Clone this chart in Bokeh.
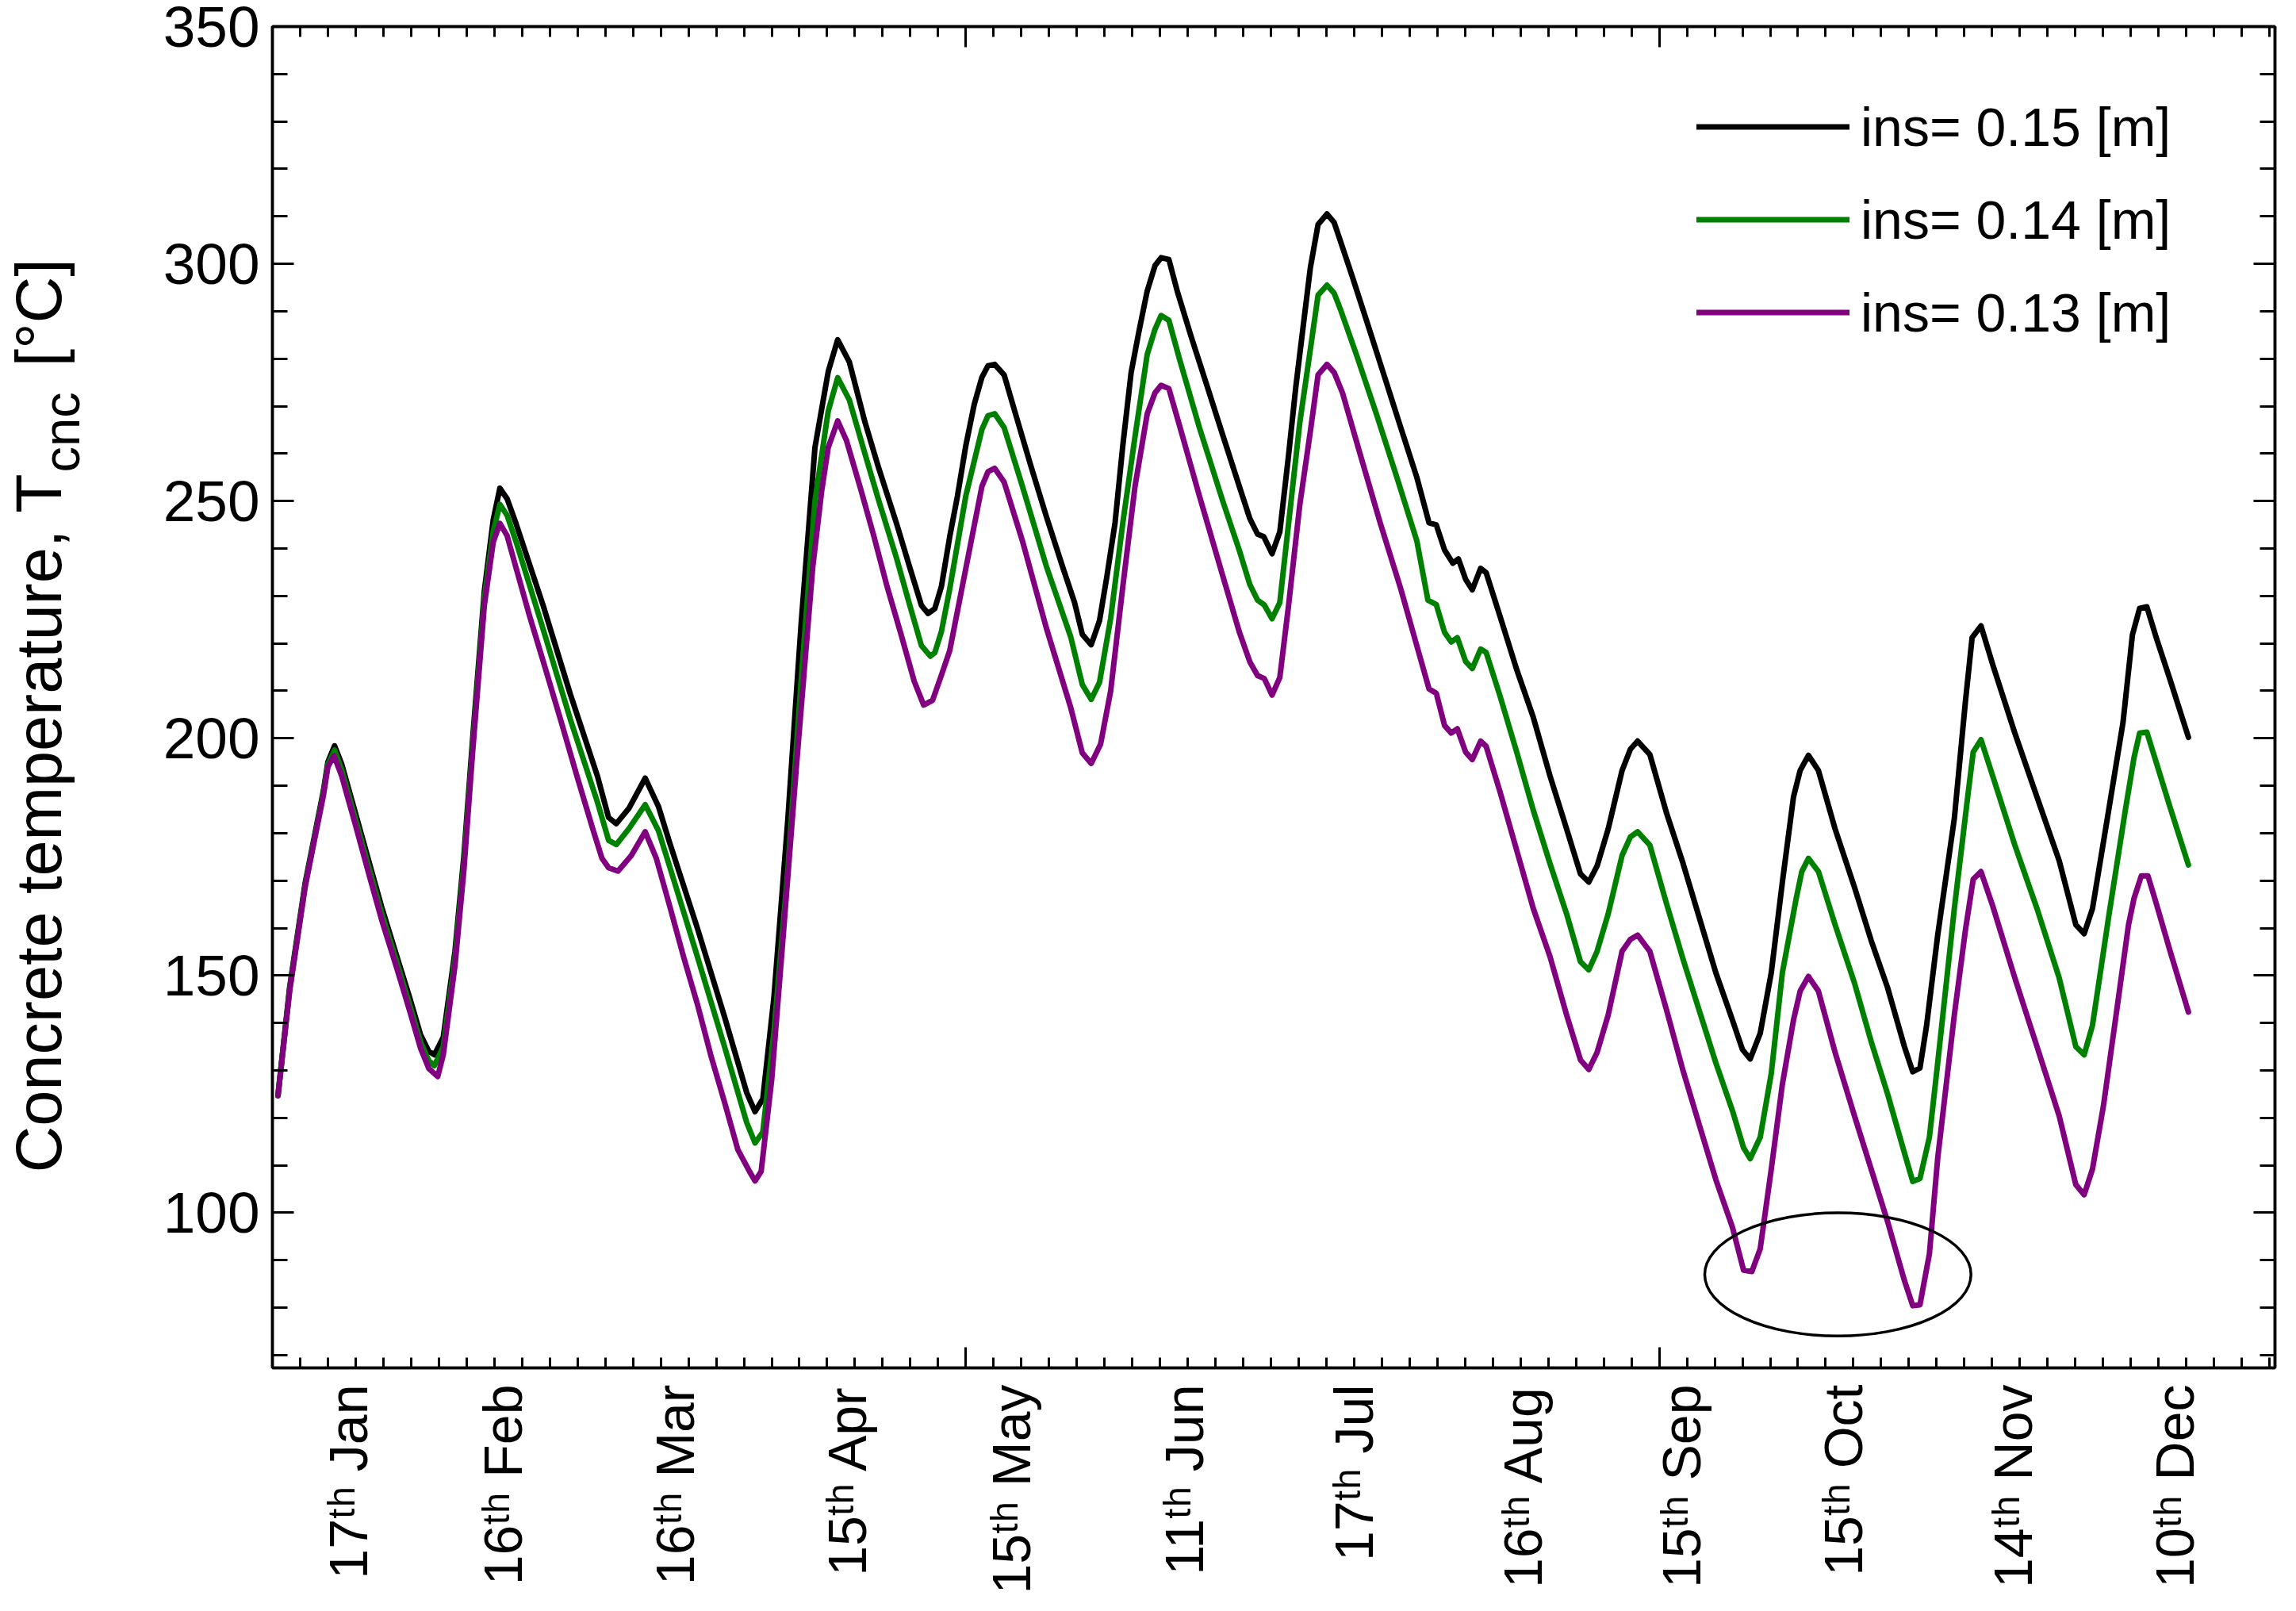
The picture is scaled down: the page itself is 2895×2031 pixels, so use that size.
import math
from bokeh.plotting import figure
from bokeh.models import Range1d, LinearAxis, FixedTicker, Legend, LegendItem
from bokeh.embed import file_html
from bokeh.resources import INLINE

# ---------------- data (day of year, concrete temperature in degC) ----------------
ins_015 = [(1.0,124.7),(3.1,147.5),(5.9,169.5),(7.6,179.5),(9.2,189.0),(10.0,195.0),(11.2,198.4),(12.5,194.5),
 (14.9,184.5),(17.4,174.0),(19.8,164.0),(22.3,154.5),(24.7,145.5),(26.7,137.5),(28.2,134.0),(29.2,133.3),
 (30.8,137.0),(32.9,155.0),(34.5,175.0),(36.1,200.0),(38.2,231.0),(39.8,246.0),(41.0,252.7),(42.3,250.5),
 (43.9,245.3),(48.8,228.0),(53.7,209.3),(58.6,192.0),(60.6,183.3),(62.0,182.0),(64.3,185.3),(67.2,191.6),
 (69.6,185.6),(71.6,178.0),(76.6,160.0),(81.5,141.3),(85.5,125.3),(87.0,121.3),(88.4,124.0),(90.4,145.3),
 (92.9,182.7),(95.3,224.0),(97.8,261.3),(100.2,277.3),(101.9,284.0),(104.0,279.3),(106.8,266.7),(109.2,257.3),
 (112.5,245.3),(114.9,236.0),(117.0,228.0),(118.2,226.3),(119.4,227.3),(120.6,232.0),(122.1,242.5),(123.5,251.1),
 (125.0,261.7),(126.5,270.3),(127.9,276.1),(129.0,278.5),(130.2,278.8),(131.9,276.6),(133.7,269.4),(136.6,257.9),
 (139.5,246.8),(142.4,236.3),(144.6,228.6),(146.0,221.9),(147.6,219.7),(149.1,224.8),(150.4,233.9),(151.9,245.4),
 (153.3,261.7),(154.8,277.1),(156.2,285.7),(157.7,294.3),(159.1,299.6),(160.2,301.3),(161.6,300.9),(163.1,294.3),
 (165.6,284.7),(168.5,274.2),(171.4,263.6),(174.3,253.1),(176.2,246.3),(177.6,243.0),(178.7,242.5),(180.2,238.9),
 (181.6,243.5),(183.1,258.8),(184.5,274.2),(186.0,288.6),(187.1,299.1),(188.5,308.3),(190.1,310.5),(191.4,308.7),
 (192.5,304.9),(194.7,297.2),(197.6,286.7),(200.5,276.1),(203.4,265.5),(206.3,255.0),(208.5,245.4),(209.8,245.0),
 (211.3,239.7),(212.8,236.9),(213.8,237.8),(215.1,233.5),(216.3,231.3),(217.8,235.8),(218.8,234.9),(221.3,225.7),
 (224.3,214.5),(227.3,204.4),(230.3,192.1),(233.3,180.9),(235.8,171.4),(237.3,169.7),(238.8,173.1),(240.8,180.9),
 (243.3,193.2),(244.8,197.7),(246.1,199.4),(248.3,196.6),(251.3,184.3),(254.3,173.6),(257.3,161.9),(260.2,150.6),
 (263.2,140.6),(265.0,134.4),(266.4,132.4),(268.2,137.8),(270.2,150.6),(272.2,169.7),(274.2,187.6),(275.4,193.2),
 (276.9,196.4),(278.7,193.2),(281.7,180.9),(285.2,168.6),(288.2,157.4),(291.2,147.3),(294.2,135.0),(295.7,129.7),
 (297.0,130.5),(298.2,139.5),(300.2,158.5),(303.2,183.1),(305.2,207.8),(306.4,221.2),(308.0,223.7),(310.1,215.6),
 (314.1,201.1),(318.1,187.6),(322.1,174.2),(325.1,160.7),(326.6,158.8),(328.1,164.1),(331.1,185.4),(333.6,203.3),
 (335.3,221.8),(336.6,227.4),(337.9,227.7),(339.6,221.2),(342.1,212.3),(345.4,200.2)]

ins_014 = [(1.0,124.7),(3.1,147.0),(5.9,169.0),(7.6,179.0),(9.2,188.5),(10.0,194.5),(11.2,197.5),(12.5,193.3),
 (14.9,183.3),(17.4,172.7),(19.8,162.7),(22.3,153.3),(24.7,144.0),(26.7,136.0),(28.2,132.0),(29.2,131.0),
 (30.8,135.0),(32.9,153.5),(34.5,173.5),(36.1,198.5),(38.2,229.5),(39.8,243.5),(41.0,249.3),(42.3,247.0),
 (43.9,241.5),(48.8,223.0),(53.7,204.0),(58.6,186.5),(60.6,178.5),(62.0,177.6),(64.3,181.0),(67.2,186.0),
 (69.6,180.5),(71.6,173.0),(76.6,154.0),(81.5,135.0),(85.5,119.0),(87.0,114.7),(88.4,117.0),(90.4,138.0),
 (92.9,172.0),(95.3,212.0),(97.8,250.0),(100.2,269.0),(101.9,276.0),(104.0,271.3),(106.8,260.0),(109.2,250.5),
 (112.5,238.0),(114.9,228.0),(117.0,219.5),(118.6,217.3),(119.4,218.0),(120.6,222.5),(122.1,231.5),(125.0,251.1),
 (127.9,265.1),(129.0,268.0),(130.2,268.4),(131.9,265.5),(135.2,253.1),(139.5,236.3),(143.9,221.4),(146.0,211.3),
 (147.6,208.2),(149.1,211.8),(151.1,225.2),(153.3,245.4),(155.5,263.6),(157.7,280.9),(159.1,286.2),(160.2,289.1),
 (161.6,288.1),(163.5,280.0),(167.1,265.5),(171.4,249.7),(174.3,239.6),(176.2,232.4),(177.6,229.1),(178.8,228.1),
 (180.2,225.2),(181.6,228.6),(183.1,244.4),(185.2,266.5),(187.1,281.9),(188.5,293.4),(190.1,295.5),(191.4,293.8),
 (192.5,290.5),(195.4,280.9),(199.0,268.4),(202.7,255.0),(206.3,241.6),(208.3,229.1),(209.8,228.2),(211.3,222.3),
 (212.5,220.3),(213.6,221.2),(215.1,216.2),(216.3,214.7),(217.8,218.8),(218.8,218.1),(221.3,208.9),(224.3,197.1),
 (227.3,184.8),(230.3,173.6),(233.3,163.0),(235.8,152.9),(237.3,151.2),(238.8,155.1),(240.8,163.0),(243.3,175.3),
 (244.8,179.2),(246.1,180.3),(248.3,177.5),(251.3,165.2),(254.3,153.4),(257.3,142.3),(260.2,131.6),(263.2,121.5),
 (265.2,113.7),(266.4,111.4),(268.2,115.9),(270.2,129.4),(272.2,150.6),(274.7,166.3),(275.7,171.9),(276.9,174.7),
 (278.7,171.9),(281.7,160.7),(285.2,148.4),(288.2,136.1),(291.2,124.9),(294.2,112.6),(295.7,106.6),(297.0,107.2),
 (298.7,115.9),(300.2,131.6),(303.2,164.1),(305.6,187.6),(306.6,197.1),(308.0,199.7),(310.1,192.1),(314.1,177.5),
 (318.1,164.1),(322.1,149.5),(325.1,135.0),(326.6,133.3),(328.1,139.5),(331.1,163.0),(334.1,185.4),(335.6,196.0),
 (336.6,201.1),(337.9,201.3),(339.6,194.9),(342.1,185.4),(345.4,173.3)]

ins_013 = [(1.0,124.7),(3.1,146.7),(5.9,168.7),(7.6,178.7),(9.2,188.0),(10.0,194.0),(11.1,196.3),(12.5,192.0),
 (14.9,182.0),(17.4,171.3),(19.8,161.3),(22.3,152.0),(24.7,142.7),(26.7,134.7),(28.2,130.4),(29.8,128.7),
 (30.8,133.3),(32.9,152.0),(34.5,172.0),(36.1,197.3),(38.2,228.0),(39.8,241.3),(41.0,245.3),(42.3,242.7),
 (43.9,236.0),(46.3,226.0),(49.2,214.7),(52.1,203.3),(54.9,192.0),(57.8,180.7),(59.4,174.7),(60.6,172.7),
 (62.3,172.0),(64.7,175.3),(67.2,180.3),(69.2,174.7),(71.6,164.7),(74.1,154.0),(76.6,144.0),(79.0,133.3),
 (81.5,123.3),(83.9,113.3),(86.0,108.7),(87.0,106.7),(88.1,108.7),(90.0,128.0),(92.1,158.7),(94.5,194.7),
 (97.4,236.0),(99.0,252.0),(100.2,261.3),(101.9,266.9),(103.5,262.7),(106.0,252.7),(108.4,242.7),(110.8,232.0),
 (113.3,222.0),(115.7,212.0),(117.4,207.0),(119.0,208.0),(120.6,213.3),(122.1,218.5),(125.0,235.8),(127.9,253.1),
 (129.0,256.2),(130.2,256.9),(131.9,254.0),(135.2,241.6),(139.5,223.3),(143.9,206.5),(146.0,196.9),(147.6,194.7),
 (149.3,198.8),(151.1,209.9),(153.3,232.0),(155.5,253.1),(157.7,268.4),(159.1,272.8),(160.2,274.4),(161.6,273.7),
 (163.5,266.0),(167.1,251.1),(171.4,233.9),(174.3,222.4),(176.2,216.1),(177.6,213.2),(178.8,212.6),(180.2,209.1),
 (181.6,212.8),(183.1,227.2),(185.2,249.2),(187.1,264.6),(188.5,276.6),(190.1,278.8),(191.4,277.1),(192.9,272.8),
 (196.1,259.8),(199.7,245.4),(203.4,231.5),(206.3,219.5),(208.5,210.4),(209.8,209.5),(211.3,202.7),(212.5,201.1),
 (213.6,202.0),(215.1,197.1),(216.3,195.5),(217.8,199.4),(218.8,198.3),(221.3,188.7),(224.3,176.4),(227.3,164.1),
 (230.3,154.0),(233.3,141.7),(235.8,132.2),(237.3,130.2),(238.8,133.8),(240.8,141.7),(243.3,155.1),(244.8,157.6),
 (246.1,158.5),(248.3,155.1),(251.3,142.8),(254.3,129.9),(257.3,118.2),(260.2,107.0),(263.2,96.9),(265.2,87.9),
 (266.7,87.6),(268.2,92.4),(270.2,109.2),(272.2,127.1),(274.2,140.6),(275.4,146.7),(276.9,149.8),(278.7,146.7),
 (281.7,133.8),(285.2,120.4),(288.2,109.2),(291.2,98.0),(294.2,85.7),(295.7,80.4),(297.0,80.6),(298.7,91.3),
 (300.2,111.5),(303.2,141.7),(305.2,159.6),(306.6,170.3),(308.0,171.9),(310.1,164.7),(314.1,149.5),(318.1,135.0),
 (322.1,120.4),(325.1,105.9),(326.6,103.8),(328.1,109.2),(330.1,122.7),(332.1,139.5),(334.6,160.7),(335.6,166.3),
 (336.9,171.0),(338.1,171.0),(339.6,165.2),(342.1,155.1),(345.4,142.3)]

series_labels = ["ins= 0.15 [m]", "ins= 0.14 [m]", "ins= 0.13 [m]"]
series_colors = ["#000000", "#008000", "#800080"]

# date labels under the axis: day, month and the x position (day of year) of the label
label_days = ["17", "16", "16", "15", "15", "11", "17", "16", "15", "15", "14", "10"]
label_months = ["Jan", "Feb", "Mar", "Apr", "May", "Jun", "Jul", "Aug", "Sep", "Oct", "Nov", "Dec"]
label_x = [13.6, 41.6, 72.6, 103.6, 133.2, 164.3, 194.9, 225.4, 254.0, 283.2, 313.7, 342.9]

# y-axis title: main text and subscript (non-breaking spaces place the pieces along the axis)
NBSP = "\u00a0"
title_main = "Concrete temperature, T" + NBSP * 6 + "[°C]" + NBSP * 2
title_sub = NBSP * 37 + "cnc"

# highlighted minima (ellipse): centre x, centre y, width, height
ellipse_x, ellipse_y, ellipse_w, ellipse_h = 282.2, 87.0, 48.0, 26.0

FONT = "Liberation Sans"

p = figure(width=2878, height=2013, output_backend="svg", toolbar_location=None,
           x_range=Range1d(0, 361), y_range=Range1d(67.3, 350),
           x_axis_type=None, y_axis_type=None,
           min_border_left=334, min_border_right=10, min_border_top=33, min_border_bottom=289)
p.grid.visible = False
p.outline_line_color = "black"
p.outline_line_width = 3.5
p.background_fill_color = "white"
p.border_fill_color = "white"

x_ticker = FixedTicker(ticks=[0, 125, 250], minor_ticks=list(range(0, 365, 5)))
y_ticker = FixedTicker(ticks=[100, 150, 200, 250, 300, 350], minor_ticks=list(range(70, 351, 10)))


def styled_axis(ticker, is_x, labelled):
    ax = LinearAxis(ticker=ticker)
    ax.axis_line_width = 3.5
    ax.axis_line_color = "black"
    ax.major_tick_line_width = 3
    ax.minor_tick_line_width = 3
    ax.major_tick_out = 0
    ax.minor_tick_out = 0
    if is_x:
        ax.major_tick_in = 26
        ax.minor_tick_in = 13
    else:
        ax.major_tick_in = 27
        ax.minor_tick_in = 19
    if labelled:
        ax.major_label_text_font = FONT
        ax.major_label_text_font_size = "73px"
        ax.major_label_text_color = "black"
        ax.major_label_standoff = 16
    else:
        ax.major_label_overrides = {t: "" for t in ticker.ticks}
        ax.major_label_text_font_size = "0px"
        ax.major_label_standoff = 0
    return ax


def title_axis(text, size, standoff):
    ax = LinearAxis(ticker=FixedTicker(ticks=[], minor_ticks=[]))
    ax.axis_line_color = None
    ax.major_tick_line_color = None
    ax.minor_tick_line_color = None
    ax.major_tick_in = 0
    ax.major_tick_out = 0
    ax.minor_tick_in = 0
    ax.minor_tick_out = 0
    ax.major_label_standoff = 0
    ax.major_label_text_font_size = "0px"
    ax.axis_label = text
    ax.axis_label_text_font = FONT
    ax.axis_label_text_font_size = size
    ax.axis_label_text_font_style = "normal"
    ax.axis_label_text_color = "black"
    ax.axis_label_standoff = standoff
    return ax


p.add_layout(styled_axis(x_ticker, True, False), "below")
p.add_layout(styled_axis(x_ticker, True, False), "above")
p.add_layout(styled_axis(y_ticker, False, True), "left")
p.add_layout(styled_axis(y_ticker, False, False), "right")

# bare axes on the left that carry the title pieces (subscript nearer the frame)
p.add_layout(title_axis(title_sub, "65px", 89), "left")
p.add_layout(title_axis(title_main, "81px", -56), "left")

# second (bare) axis below that carries the rotated date labels
date_axis = LinearAxis(ticker=FixedTicker(ticks=label_x, minor_ticks=[]))
date_axis.axis_line_color = None
date_axis.major_tick_line_color = None
date_axis.minor_tick_line_color = None
date_axis.major_tick_in = 0
date_axis.major_tick_out = 0
date_axis.major_label_overrides = {x: f"{d}\u1d57\u02b0 {m}" for x, d, m in zip(label_x, label_days, label_months)}
date_axis.major_label_orientation = math.pi / 2
date_axis.major_label_text_font = FONT
date_axis.major_label_text_font_size = "68px"
date_axis.major_label_text_color = "black"
date_axis.major_label_standoff = 21
p.add_layout(date_axis, "below")

renderers = []
for data, color in zip([ins_015, ins_014, ins_013], series_colors):
    xs = [d for d, _ in data]
    ys = [t for _, t in data]
    r = p.line(xs, ys, line_color=color, line_width=7, line_join="round", line_cap="round")
    renderers.append(r)

p.ellipse(x=[ellipse_x], y=[ellipse_y], width=[ellipse_w], height=[ellipse_h],
          fill_color=None, line_color="black", line_width=3.5)

legend = Legend(items=[LegendItem(label=l, renderers=[r]) for l, r in zip(series_labels, renderers)],
                location=(1796, 1272), orientation="vertical",
                glyph_width=193, glyph_height=117, label_height=117, spacing=0,
                padding=0, margin=0, label_standoff=14,
                border_line_color=None, background_fill_alpha=0,
                label_text_font=FONT, label_text_font_size="68px", label_text_color="black")
p.add_layout(legend)

open("out.html", "w").write(file_html(p, INLINE))
